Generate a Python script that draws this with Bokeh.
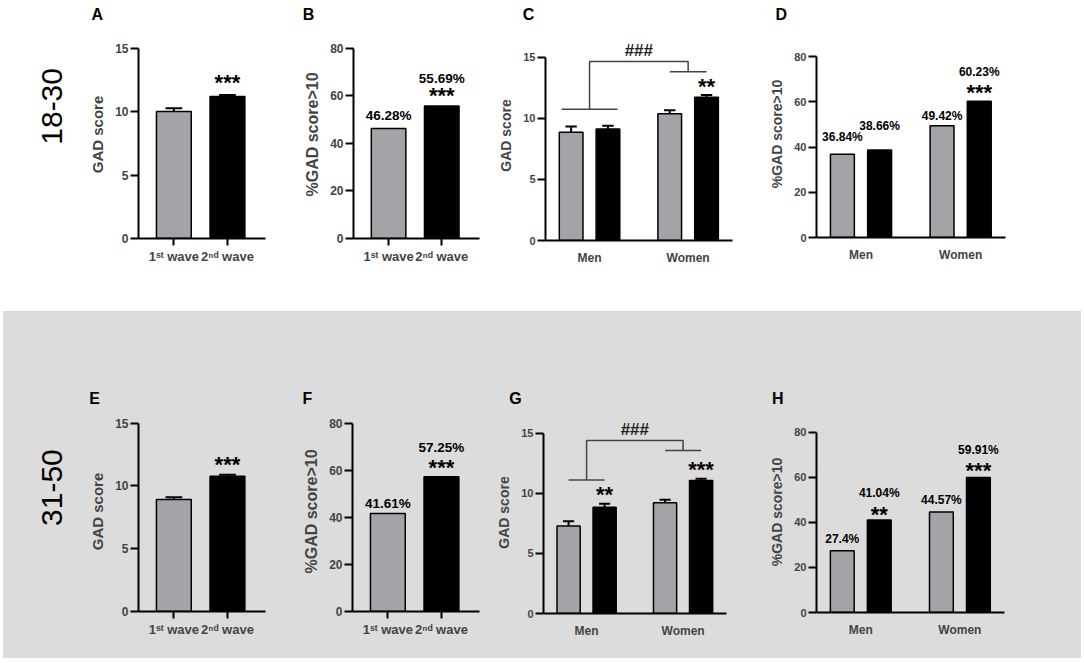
from bokeh.plotting import figure
from bokeh.models import ColumnDataSource, FixedTicker, Range1d, Spacer
from bokeh.layouts import row, column
from bokeh.embed import file_html
from bokeh.resources import INLINE
from bokeh.core.properties import value
import math

# ---------------- data ----------------
age_groups = ["18-30", "31-50"]
panel_letters_top = ["A", "B", "C", "D"]
panel_letters_bottom = ["E", "F", "G", "H"]
wave_labels = ["1ˢᵗ wave", "2ⁿᵈ wave"]
sex_labels = ["Men", "Women"]

# two-bar panels: 1st wave, 2nd wave
gad_18_30 = [10.02, 11.19]
gad_18_30_sem = [0.24, 0.13]
pct_18_30 = [46.28, 55.69]
# four-bar panels: men 1st, men 2nd, women 1st, women 2nd
gad_sex_18_30 = [8.86, 9.13, 10.37, 11.73]
gad_sex_18_30_sem = [0.47, 0.27, 0.29, 0.17]
pct_sex_18_30 = [36.84, 38.66, 49.42, 60.23]

gad_31_50 = [8.92, 10.78]
gad_31_50_sem = [0.18, 0.12]
pct_31_50 = [41.61, 57.25]
gad_sex_31_50 = [7.28, 8.83, 9.22, 11.07]
gad_sex_31_50_sem = [0.39, 0.30, 0.25, 0.14]
pct_sex_31_50 = [27.4, 41.04, 44.57, 59.91]

sig_A = ["", "***"]
sig_B = ["", "***"]
sig_C = ["", "", "", "**"]
sig_D = ["", "", "", "***"]
sig_E = ["", "***"]
sig_F = ["", "***"]
sig_G = ["", "**", "", "***"]
sig_H = ["", "**", "", "***"]
sex_effect = "###"

gad_ticks = [0, 5, 10, 15]
pct_ticks = [0, 20, 40, 60, 80]

# ---------------- style ----------------
FONT = "Liberation Sans"
GREY = "#a4a4a8"
BG_BOT = "#dcdcdc"
BRACKET = "#444444"

PAIR_RANGE = (0.34, 2.71)
PAIR_X = [1, 2]
PAIR_W = 0.65
QUAD_RANGE = (0.66, 6.35)
GROUP_X = [2, 5]
HALF = 0.56
QUAD_X = [GROUP_X[0] - HALF, GROUP_X[0] + HALF, GROUP_X[1] - HALF, GROUP_X[1] + HALF]
QUAD_W = 0.72


def clean(p):
    p.background_fill_color = None
    p.border_fill_color = None
    p.outline_line_color = None


def strip(w, h):
    p = figure(width=w, height=h, x_range=Range1d(0, w), y_range=Range1d(h, 0),
               min_border=0, x_axis_type=None, y_axis_type=None,
               output_backend="svg", toolbar_location=None, tools="")
    clean(p)
    return p


def make_panel(geo, kind, vals, sem, pct, sig, ylab, yticks,
               fs_ylab, fs_tick, fs_xtick, fs_pct, lab_gap, star_gap,
               ylab_standoff=6, bracket=None):
    fl, fw, fr = geo["fl"], geo["fw"], geo["fr"]
    rh, zero, ttop = geo["rh"], geo["zero"], geo["ttop"]
    ymax = yticks[-1]
    yppu = (zero - ttop) / ymax
    y_end = zero / yppu
    xr = PAIR_RANGE if kind == "pair" else QUAD_RANGE
    xs = PAIR_X if kind == "pair" else QUAD_X
    bw = PAIR_W if kind == "pair" else QUAD_W

    p = figure(frame_width=fw, frame_height=zero,
               min_border_left=fl, min_border_right=fr,
               min_border_top=0, min_border_bottom=rh - zero,
               x_range=Range1d(*xr), y_range=Range1d(0, y_end),
               output_backend="svg", toolbar_location=None, tools="")
    clean(p)
    p.xgrid.visible = False
    p.ygrid.visible = False

    colors = [GREY if i % 2 == 0 else "black" for i in range(len(vals))]
    src = ColumnDataSource(dict(x=xs, top=vals, color=colors))
    p.vbar(x="x", top="top", bottom=0, width=bw, fill_color="color",
           line_color="black", line_width=1.5, source=src)

    if sem is not None:
        caps = [v + e for v, e in zip(vals, sem)]
        hw = 0.24 * bw
        es = ColumnDataSource(dict(x=xs, y0=vals, y1=caps,
                                   xl=[x - hw for x in xs], xr=[x + hw for x in xs]))
        p.segment(x0="x", y0="y0", x1="x", y1="y1", line_color="black",
                  line_width=2, source=es)
        p.segment(x0="xl", y0="y1", x1="xr", y1="y1", line_color="black",
                  line_width=2, source=es)
        ref = caps
    else:
        ref = vals

    if pct:
        ps = ColumnDataSource(dict(
            x=xs, y=[v + g / yppu for v, g in zip(vals, lab_gap)],
            t=[f"{v}%" for v in vals]))
        p.text(x="x", y="y", text="t", source=ps, text_font=value(FONT),
               text_font_size=fs_pct, text_font_style="bold",
               text_align="center", text_baseline="middle", text_color="black")

    sx, sy, st = [], [], []
    for x, r, s, g in zip(xs, ref, sig, star_gap):
        if s:
            sx.append(x)
            sy.append(r + (g - 5) / yppu)
            st.append(s)
    if st:
        p.text(x=sx, y=sy, text=st, text_font=value(FONT), text_font_size="22px",
               text_font_style="bold", text_align="center", text_baseline="middle",
               text_color="black")

    if bracket is not None:
        ym, yt, yw, hm, hwm = bracket
        g0, g1 = GROUP_X
        p.multi_line(xs=[[g0 - hm, g0 + hm], [g1 - hwm, g1 + hwm], [g0, g0, g1, g1]],
                     ys=[[ym, ym], [yw, yw], [ym, yt, yt, yw]],
                     line_color=BRACKET, line_width=1.5)
        p.text(x=[(g0 + g1) / 2], y=[yt + 11 / yppu], text=[sex_effect],
               text_font=value(FONT), text_font_size="17px", text_font_style="bold",
               text_align="center", text_baseline="middle", text_color="#222222")

    ya = p.yaxis[0]
    ya.ticker = FixedTicker(ticks=yticks, minor_ticks=[])
    ya.bounds = (0, ymax)
    ya.axis_label = ylab
    ya.axis_label_text_font = FONT
    ya.axis_label_text_font_style = "bold"
    ya.axis_label_text_font_size = fs_ylab
    ya.axis_label_standoff = ylab_standoff
    ya.major_label_text_font = FONT
    ya.major_label_text_font_style = "bold"
    ya.major_label_text_font_size = fs_tick
    ya.major_label_standoff = 2
    ya.axis_line_width = 2
    ya.major_tick_line_width = 2
    ya.major_tick_out = 8
    ya.major_tick_in = 0
    ya.minor_tick_out = 0
    ya.minor_tick_in = 0

    xa = p.xaxis[0]
    if kind == "pair":
        xa.ticker = FixedTicker(ticks=PAIR_X, minor_ticks=[])
        xa.major_label_overrides = {PAIR_X[0]: wave_labels[0], PAIR_X[1]: wave_labels[1]}
        xa.major_tick_out = 7
        xa.major_label_standoff = 3
    else:
        xa.ticker = FixedTicker(ticks=GROUP_X, minor_ticks=[])
        xa.major_label_overrides = {GROUP_X[0]: sex_labels[0], GROUP_X[1]: sex_labels[1]}
        xa.major_tick_out = 0
        xa.major_label_standoff = 10
    xa.major_tick_in = 0
    xa.minor_tick_out = 0
    xa.minor_tick_in = 0
    xa.major_tick_line_width = 2
    xa.axis_line_width = 2
    xa.major_label_text_font = FONT
    xa.major_label_text_font_style = "bold"
    xa.major_label_text_font_size = fs_xtick
    return p


# geometry (pixels): left border, frame width, right border, row height,
# zero line and top-tick line (from the top of the row)
gA = dict(fl=58, fw=127, fr=25, rh=281, zero=208, ttop=17.7)
gB = dict(fl=63, fw=126, fr=11, rh=281, zero=208, ttop=17.7)
gC = dict(fl=55, fw=187, fr=33, rh=281, zero=210, ttop=26.7)
gD = dict(fl=51, fw=189, fr=79, rh=281, zero=207, ttop=26)
gE = dict(fl=58, fw=127, fr=25, rh=247, zero=200, ttop=11.7)
gF = dict(fl=62, fw=127, fr=11, rh=247, zero=200, ttop=11.7)
gG = dict(fl=53, fw=183, fr=39, rh=247, zero=202, ttop=21.7)
gH = dict(fl=51, fw=188, fr=77, rh=247, zero=201, ttop=20.7)

pA = make_panel(gA, "pair", gad_18_30, gad_18_30_sem, False, sig_A, "GAD score",
                gad_ticks, "15px", "12px", "13px", "13px", None, [0, 17.6])
pB = make_panel(gB, "pair", pct_18_30, None, True, sig_B, "%GAD score>10",
                pct_ticks, "16px", "12px", "13px", "13.5px", [13, 28], [0, 16])
pC = make_panel(gC, "quad", gad_sex_18_30, gad_sex_18_30_sem, False, sig_C, "GAD score",
                gad_ticks, "14px", "11px", "12px", "12px", None, [0, 0, 0, 13.6],
                bracket=(10.74, 14.65, 13.8, 0.85, 0.56))
pD = make_panel(gD, "quad", pct_sex_18_30, None, True, sig_D, "%GAD score>10",
                pct_ticks, "14px", "11px", "12px", "12px",
                [17, 24, 10, 29], [0, 0, 0, 13.4])
pE = make_panel(gE, "pair", gad_31_50, gad_31_50_sem, False, sig_E, "GAD score",
                gad_ticks, "15px", "12px", "13px", "13px", None, [0, 15])
pF = make_panel(gF, "pair", pct_31_50, None, True, sig_F, "%GAD score>10",
                pct_ticks, "16px", "12px", "13px", "13.5px", [10, 29.5], [0, 14.5])
pG = make_panel(gG, "quad", gad_sex_31_50, gad_sex_31_50_sem, False, sig_G, "GAD score",
                gad_ticks, "14px", "11px", "12px", "12px", None, [0, 14, 0, 14.3],
                bracket=(11.1, 14.39, 13.56, 0.56, 0.56))
pH = make_panel(gH, "quad", pct_sex_31_50, None, True, sig_H, "%GAD score>10",
                pct_ticks, "14px", "11px", "12px", "12px",
                [12, 27, 12, 27], [0, 11, 0, 12])

# header strips with the panel letters, side strips with the age groups
top_letters = strip(1084, 30)
top_letters.text(x=[96.7, 308, 528, 780.7], y=[14, 14, 14, 14], text=panel_letters_top,
                 text_font=value(FONT), text_font_size="16px", text_font_style="bold",
                 text_align="center", text_baseline="middle", text_color="black")
bot_letters = strip(1078, 100)
bot_letters.text(x=[91, 304, 512, 774.3], y=[87, 87, 87, 87], text=panel_letters_bottom,
                 text_font=value(FONT), text_font_size="16px", text_font_style="bold",
                 text_align="center", text_baseline="middle", text_color="black")

age_top = strip(80, 281)
age_top.text(x=[51], y=[103], text=[age_groups[0]], angle=math.pi / 2,
             text_font=value(FONT), text_font_size="30px", text_font_style="normal",
             text_align="center", text_baseline="middle", text_color="black")
age_bot = strip(77, 247)
age_bot.text(x=[48], y=[94], text=[age_groups[1]], angle=math.pi / 2,
             text_font=value(FONT), text_font_size="30px", text_font_style="normal",
             text_align="center", text_baseline="middle", text_color="black")

top_block = column(top_letters, row(age_top, pA, pB, pC, pD))
gray_block = column(bot_letters, row(age_bot, pE, pF, pG, pH),
                    styles={"background-color": BG_BOT})
bottom_block = row(Spacer(width=3, height=347), gray_block, Spacer(width=3, height=347))
layout = column(top_block, bottom_block, Spacer(width=1084, height=5))

open("out.html", "w").write(file_html(layout, INLINE, "GAD"))
